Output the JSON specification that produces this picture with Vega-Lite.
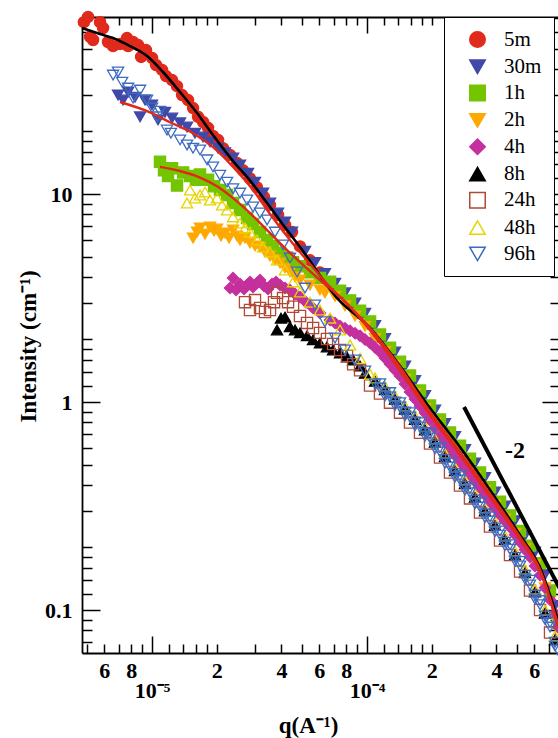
{
"$schema": "https://vega.github.io/schema/vega-lite/v6.json",
"autosize": {"type": "none"},
"padding": {"left": 82, "top": 17, "right": 0, "bottom": 85},
"width": 478,
"height": 636,
"config": {
  "view": {"stroke": null},
  "axis": {"domainColor": "black", "domainWidth": 1.8, "tickColor": "black", "tickWidth": 1.5, "labelFont": "Liberation Serif", "labelFontWeight": "bold", "labelFontSize": 22, "labelColor": "black", "titleFont": "Liberation Serif", "titleFontWeight": "bold", "titleFontSize": 23, "titleColor": "black", "grid": false, "labelOverlap": false, "labelFlush": false}
},
"datasets": {
  "pts": [
    {"s":"5m","q":4.82e-6,"I":67},{"s":"5m","q":5.04e-6,"I":71},{"s":"5m","q":5.15e-6,"I":57},{"s":"5m","q":5.32e-6,"I":55},{"s":"5m","q":5.73e-6,"I":67},{"s":"5m","q":5.92e-6,"I":62.8},{"s":"5m","q":6.24e-6,"I":53.8},{"s":"5m","q":6.59e-6,"I":51.4},{"s":"5m","q":7.10e-6,"I":52.6},{"s":"5m","q":7.65e-6,"I":56.2},{"s":"5m","q":7.74e-6,"I":51.4},{"s":"5m","q":8.16e-6,"I":53.8},{"s":"5m","q":8.62e-6,"I":52.0},{"s":"5m","q":8.90e-6,"I":45.6},{"s":"5m","q":9.38e-6,"I":49.2},{"s":"5m","q":1.0e-5,"I":45.1},{"s":"5m","q":1.044e-5,"I":41.7},{"s":"5m","q":1.113e-5,"I":39.5},{"s":"5m","q":1.162e-5,"I":36.9},{"s":"5m","q":1.239e-5,"I":35.3},{"s":"5m","q":1.307e-5,"I":33.0},{"s":"5m","q":1.380e-5,"I":29.9},{"s":"5m","q":1.471e-5,"I":28.3},{"s":"5m","q":1.552e-5,"I":25.9},{"s":"5m","q":1.637e-5,"I":23.5},{"s":"5m","q":1.727e-5,"I":22.2},{"s":"5m","q":1.822e-5,"I":20.8},{"s":"5m","q":1.922e-5,"I":19.0},{"s":"5m","q":2.028e-5,"I":18.2},{"s":"5m","q":2.139e-5,"I":16.6},{"s":"5m","q":2.306e-5,"I":15.4},{"s":"5m","q":2.486e-5,"I":14.1},{"s":"5m","q":2.651e-5,"I":13.0},{"s":"5m","q":2.856e-5,"I":11.9},{"s":"5m","q":3.079e-5,"I":10.76},{"s":"5m","q":3.319e-5,"I":9.67},{"s":"5m","q":3.538e-5,"I":8.85},{"s":"5m","q":3.856e-5,"I":7.93},{"s":"5m","q":4.155e-5,"I":7.10},{"s":"5m","q":4.479e-5,"I":6.56},
    {"s":"5m","q":4.879e-5,"I":5.6},{"s":"5m","q":5.43e-5,"I":4.8},{"s":"5m","q":6.04e-5,"I":4.2},{"s":"5m","q":6.73e-5,"I":3.68},{"s":"5m","q":7.49e-5,"I":3.34},{"s":"5m","q":8.34e-5,"I":2.99},{"s":"5m","q":9.28e-5,"I":2.67},{"s":"5m","q":1.033e-4,"I":2.37},{"s":"5m","q":1.149e-4,"I":2.05},{"s":"5m","q":1.279e-4,"I":1.774},{"s":"5m","q":1.424e-4,"I":1.519},{"s":"5m","q":1.585e-4,"I":1.302},{"s":"5m","q":1.764e-4,"I":1.103},{"s":"5m","q":1.963e-4,"I":0.933},{"s":"5m","q":2.185e-4,"I":0.800},{"s":"5m","q":2.432e-4,"I":0.693},{"s":"5m","q":2.707e-4,"I":0.600},{"s":"5m","q":3.013e-4,"I":0.519},{"s":"5m","q":3.354e-4,"I":0.445},{"s":"5m","q":3.733e-4,"I":0.377},{"s":"5m","q":4.155e-4,"I":0.322},{"s":"5m","q":4.625e-4,"I":0.276},{"s":"5m","q":5.15e-4,"I":0.234},{"s":"5m","q":5.73e-4,"I":0.198},{"s":"5m","q":6.38e-4,"I":0.163},{"s":"5m","q":7.10e-4,"I":0.120},{"s":"5m","q":7.73e-4,"I":0.089},

    {"s":"30m","q":6.95e-6,"I":29.9},{"s":"30m","q":7.33e-6,"I":28.3},{"s":"30m","q":7.74e-6,"I":30.9},{"s":"30m","q":8.34e-6,"I":29.2},{"s":"30m","q":8.80e-6,"I":23.5},{"s":"30m","q":9.28e-6,"I":28.3},{"s":"30m","q":1.0e-5,"I":26.8},{"s":"30m","q":1.067e-5,"I":22.7},{"s":"30m","q":1.149e-5,"I":24.7},{"s":"30m","q":1.239e-5,"I":23.2},{"s":"30m","q":1.350e-5,"I":22.0},{"s":"30m","q":1.455e-5,"I":21.0},{"s":"30m","q":1.585e-5,"I":19.6},{"s":"30m","q":1.727e-5,"I":18.8},{"s":"30m","q":1.861e-5,"I":17.8},{"s":"30m","q":2.028e-5,"I":16.6},{"s":"30m","q":2.185e-5,"I":15.8},{"s":"30m","q":2.382e-5,"I":14.9},{"s":"30m","q":2.566e-5,"I":13.8},{"s":"30m","q":2.796e-5,"I":12.6},{"s":"30m","q":3.013e-5,"I":11.4},{"s":"30m","q":3.284e-5,"I":10.1},{"s":"30m","q":3.538e-5,"I":9.05},{"s":"30m","q":3.856e-5,"I":8.10},{"s":"30m","q":4.155e-5,"I":7.34},{"s":"30m","q":4.479e-5,"I":6.56},
    {"s":"30m","q":5.147e-5,"I":5.31},{"s":"30m","q":5.73e-5,"I":4.69},{"s":"30m","q":6.37e-5,"I":4.15},{"s":"30m","q":7.10e-5,"I":3.72},{"s":"30m","q":7.90e-5,"I":3.35},{"s":"30m","q":8.80e-5,"I":2.99},{"s":"30m","q":9.79e-5,"I":2.67},{"s":"30m","q":1.090e-4,"I":2.33},{"s":"30m","q":1.212e-4,"I":2.02},{"s":"30m","q":1.349e-4,"I":1.738},{"s":"30m","q":1.502e-4,"I":1.488},{"s":"30m","q":1.672e-4,"I":1.268},{"s":"30m","q":1.861e-4,"I":1.075},{"s":"30m","q":2.071e-4,"I":0.915},{"s":"30m","q":2.305e-4,"I":0.788},{"s":"30m","q":2.566e-4,"I":0.683},{"s":"30m","q":2.856e-4,"I":0.591},{"s":"30m","q":3.179e-4,"I":0.509},{"s":"30m","q":3.538e-4,"I":0.434},{"s":"30m","q":3.938e-4,"I":0.369},{"s":"30m","q":4.383e-4,"I":0.316},{"s":"30m","q":4.879e-4,"I":0.269},{"s":"30m","q":5.43e-4,"I":0.228},{"s":"30m","q":6.04e-4,"I":0.190},{"s":"30m","q":6.73e-4,"I":0.148},{"s":"30m","q":7.49e-4,"I":0.105},

    {"s":"1h","q":1.089e-5,"I":14.3},{"s":"1h","q":1.137e-5,"I":13.0},{"s":"1h","q":1.187e-5,"I":12.2},{"s":"1h","q":1.239e-5,"I":13.3},{"s":"1h","q":1.307e-5,"I":11.0},{"s":"1h","q":1.395e-5,"I":12.7},{"s":"1h","q":1.502e-5,"I":12.2},{"s":"1h","q":1.602e-5,"I":11.7},{"s":"1h","q":1.672e-5,"I":12.4},{"s":"1h","q":1.822e-5,"I":11.7},{"s":"1h","q":1.943e-5,"I":10.9},{"s":"1h","q":2.071e-5,"I":10.45},{"s":"1h","q":2.233e-5,"I":9.89},{"s":"1h","q":2.382e-5,"I":9.05},{"s":"1h","q":2.566e-5,"I":8.38},{"s":"1h","q":2.767e-5,"I":7.67},{"s":"1h","q":2.950e-5,"I":7.18},{"s":"1h","q":3.179e-5,"I":6.56},{"s":"1h","q":3.428e-5,"I":6.01},{"s":"1h","q":3.655e-5,"I":5.63},{"s":"1h","q":3.938e-5,"I":5.20},{"s":"1h","q":4.246e-5,"I":4.95},{"s":"1h","q":4.528e-5,"I":4.7},{"s":"1h","q":4.879e-5,"I":4.5},{"s":"1h","q":5.43e-5,"I":4.2},{"s":"1h","q":6.04e-5,"I":3.95},
    {"s":"1h","q":6.73e-5,"I":3.79},{"s":"1h","q":7.49e-5,"I":3.43},{"s":"1h","q":8.34e-5,"I":3.08},{"s":"1h","q":9.28e-5,"I":2.75},{"s":"1h","q":1.033e-4,"I":2.44},{"s":"1h","q":1.149e-4,"I":2.11},{"s":"1h","q":1.279e-4,"I":1.826},{"s":"1h","q":1.424e-4,"I":1.563},{"s":"1h","q":1.585e-4,"I":1.340},{"s":"1h","q":1.764e-4,"I":1.135},{"s":"1h","q":1.963e-4,"I":0.961},{"s":"1h","q":2.185e-4,"I":0.823},{"s":"1h","q":2.432e-4,"I":0.713},{"s":"1h","q":2.707e-4,"I":0.617},{"s":"1h","q":3.013e-4,"I":0.534},{"s":"1h","q":3.354e-4,"I":0.458},{"s":"1h","q":3.733e-4,"I":0.389},{"s":"1h","q":4.155e-4,"I":0.332},{"s":"1h","q":4.625e-4,"I":0.285},{"s":"1h","q":5.15e-4,"I":0.240},{"s":"1h","q":5.73e-4,"I":0.204},{"s":"1h","q":6.38e-4,"I":0.168},{"s":"1h","q":7.10e-4,"I":0.124},{"s":"1h","q":7.73e-4,"I":0.092},

    {"s":"2h","q":1.552e-5,"I":6.14},{"s":"2h","q":1.620e-5,"I":6.56},{"s":"2h","q":1.672e-5,"I":6.87},{"s":"2h","q":1.764e-5,"I":6.42},{"s":"2h","q":1.861e-5,"I":6.94},{"s":"2h","q":1.943e-5,"I":6.64},{"s":"2h","q":2.006e-5,"I":6.79},{"s":"2h","q":2.094e-5,"I":6.28},{"s":"2h","q":2.185e-5,"I":6.49},{"s":"2h","q":2.281e-5,"I":6.14},{"s":"2h","q":2.382e-5,"I":6.71},{"s":"2h","q":2.486e-5,"I":6.28},{"s":"2h","q":2.566e-5,"I":6.01},{"s":"2h","q":2.707e-5,"I":6.14},{"s":"2h","q":2.856e-5,"I":5.81},{"s":"2h","q":3.013e-5,"I":5.63},{"s":"2h","q":3.179e-5,"I":5.56},{"s":"2h","q":3.354e-5,"I":5.26},{"s":"2h","q":3.538e-5,"I":5.03},{"s":"2h","q":3.733e-5,"I":4.82},{"s":"2h","q":3.938e-5,"I":4.66},{"s":"2h","q":4.155e-5,"I":4.41},{"s":"2h","q":4.383e-5,"I":4.22},{"s":"2h","q":4.625e-5,"I":3.99},{"s":"2h","q":4.879e-5,"I":3.86},{"s":"2h","q":5.43e-5,"I":3.65},{"s":"2h","q":6.04e-5,"I":3.46},{"s":"2h","q":6.37e-5,"I":3.35},
    {"s":"2h","q":7.10e-5,"I":3.22},{"s":"2h","q":7.90e-5,"I":2.90},{"s":"2h","q":8.80e-5,"I":2.59},{"s":"2h","q":9.79e-5,"I":2.31},{"s":"2h","q":1.090e-4,"I":2.02},{"s":"2h","q":1.212e-4,"I":1.748},{"s":"2h","q":1.349e-4,"I":1.504},{"s":"2h","q":1.502e-4,"I":1.288},{"s":"2h","q":1.672e-4,"I":1.098},{"s":"2h","q":1.861e-4,"I":0.930},{"s":"2h","q":2.071e-4,"I":0.792},{"s":"2h","q":2.305e-4,"I":0.683},{"s":"2h","q":2.566e-4,"I":0.591},{"s":"2h","q":2.856e-4,"I":0.511},{"s":"2h","q":3.179e-4,"I":0.440},{"s":"2h","q":3.538e-4,"I":0.376},{"s":"2h","q":3.938e-4,"I":0.320},{"s":"2h","q":4.383e-4,"I":0.274},{"s":"2h","q":4.879e-4,"I":0.233},{"s":"2h","q":5.43e-4,"I":0.197},{"s":"2h","q":6.04e-4,"I":0.165},{"s":"2h","q":6.73e-4,"I":0.128},{"s":"2h","q":7.49e-4,"I":0.091},

    {"s":"4h","q":2.306e-5,"I":3.53},{"s":"4h","q":2.382e-5,"I":3.95},{"s":"4h","q":2.459e-5,"I":3.46},{"s":"4h","q":2.566e-5,"I":3.69},{"s":"4h","q":2.679e-5,"I":3.49},{"s":"4h","q":2.767e-5,"I":3.65},{"s":"4h","q":2.856e-5,"I":3.78},{"s":"4h","q":2.950e-5,"I":3.57},{"s":"4h","q":3.079e-5,"I":3.73},{"s":"4h","q":3.179e-5,"I":3.86},{"s":"4h","q":3.319e-5,"I":3.61},{"s":"4h","q":3.465e-5,"I":3.49},{"s":"4h","q":3.616e-5,"I":3.69},{"s":"4h","q":3.774e-5,"I":3.78},{"s":"4h","q":3.938e-5,"I":3.65},{"s":"4h","q":4.155e-5,"I":3.53},{"s":"4h","q":4.383e-5,"I":3.46},{"s":"4h","q":4.625e-5,"I":3.31},{"s":"4h","q":4.879e-5,"I":3.20},{"s":"4h","q":5.2e-5,"I":3.02},{"s":"4h","q":5.61e-5,"I":2.83},{"s":"4h","q":6.04e-5,"I":2.68},{"s":"4h","q":6.73e-5,"I":2.48},{"s":"4h","q":7.10e-5,"I":2.40},{"s":"4h","q":7.49e-5,"I":2.32},{"s":"4h","q":7.90e-5,"I":2.26},{"s":"4h","q":8.34e-5,"I":2.20},{"s":"4h","q":8.80e-5,"I":2.14},{"s":"4h","q":9.28e-5,"I":2.08},{"s":"4h","q":9.79e-5,"I":2.00},{"s":"4h","q":1.033e-4,"I":1.92},{"s":"4h","q":1.090e-4,"I":1.827},{"s":"4h","q":1.149e-4,"I":1.739},{"s":"4h","q":1.212e-4,"I":1.627},{"s":"4h","q":1.279e-4,"I":1.523},{"s":"4h","q":1.349e-4,"I":1.425},{"s":"4h","q":1.424e-4,"I":1.333},{"s":"4h","q":1.502e-4,"I":1.220},{"s":"4h","q":1.585e-4,"I":1.117},{"s":"4h","q":1.672e-4,"I":1.033},{"s":"4h","q":1.764e-4,"I":0.956},{"s":"4h","q":1.861e-4,"I":0.885},{"s":"4h","q":1.963e-4,"I":0.819},{"s":"4h","q":2.071e-4,"I":0.750},{"s":"4h","q":2.185e-4,"I":0.686},{"s":"4h","q":2.305e-4,"I":0.639},{"s":"4h","q":2.432e-4,"I":0.595},{"s":"4h","q":2.566e-4,"I":0.553},{"s":"4h","q":2.707e-4,"I":0.514},{"s":"4h","q":2.856e-4,"I":0.479},{"s":"4h","q":3.013e-4,"I":0.446},{"s":"4h","q":3.179e-4,"I":0.415},{"s":"4h","q":3.354e-4,"I":0.386},{"s":"4h","q":3.538e-4,"I":0.357},{"s":"4h","q":3.733e-4,"I":0.331},{"s":"4h","q":3.938e-4,"I":0.308},{"s":"4h","q":4.155e-4,"I":0.286},{"s":"4h","q":4.383e-4,"I":0.267},{"s":"4h","q":4.625e-4,"I":0.250},{"s":"4h","q":4.879e-4,"I":0.230},{"s":"4h","q":5.15e-4,"I":0.212},{"s":"4h","q":5.43e-4,"I":0.195},{"s":"4h","q":5.73e-4,"I":0.180},{"s":"4h","q":6.04e-4,"I":0.163},{"s":"4h","q":6.38e-4,"I":0.147},{"s":"4h","q":6.73e-4,"I":0.128},{"s":"4h","q":7.10e-4,"I":0.112},{"s":"4h","q":7.49e-4,"I":0.096},{"s":"4h","q":7.73e-4,"I":0.0828},

    {"s":"8h","q":3.815e-5,"I":2.22},{"s":"8h","q":3.98e-5,"I":2.53},{"s":"8h","q":4.155e-5,"I":2.56},{"s":"8h","q":4.383e-5,"I":2.30},{"s":"8h","q":4.625e-5,"I":2.22},{"s":"8h","q":4.879e-5,"I":2.15},{"s":"8h","q":5.26e-5,"I":2.08},{"s":"8h","q":5.61e-5,"I":1.99},{"s":"8h","q":6.04e-5,"I":1.92},{"s":"8h","q":6.51e-5,"I":1.839},{"s":"8h","q":6.95e-5,"I":1.778},{"s":"8h","q":7.49e-5,"I":1.719},{"s":"8h","q":8.07e-5,"I":1.646},{"s":"8h","q":8.62e-5,"I":1.592},{"s":"8h","q":9.28e-5,"I":1.489},
    {"s":"8h","q":9.79e-5,"I":1.374},{"s":"8h","q":1.090e-4,"I":1.257},{"s":"8h","q":1.212e-4,"I":1.144},{"s":"8h","q":1.349e-4,"I":1.030},{"s":"8h","q":1.502e-4,"I":0.922},{"s":"8h","q":1.672e-4,"I":0.825},{"s":"8h","q":1.861e-4,"I":0.734},{"s":"8h","q":2.071e-4,"I":0.640},{"s":"8h","q":2.305e-4,"I":0.545},{"s":"8h","q":2.566e-4,"I":0.467},{"s":"8h","q":2.856e-4,"I":0.405},{"s":"8h","q":3.179e-4,"I":0.348},{"s":"8h","q":3.538e-4,"I":0.299},{"s":"8h","q":3.938e-4,"I":0.255},{"s":"8h","q":4.383e-4,"I":0.218},{"s":"8h","q":4.879e-4,"I":0.184},{"s":"8h","q":5.43e-4,"I":0.151},{"s":"8h","q":6.04e-4,"I":0.122},{"s":"8h","q":6.73e-4,"I":0.0965},{"s":"8h","q":7.49e-4,"I":0.072},

    {"s":"24h","q":2.707e-5,"I":3.02},{"s":"24h","q":2.856e-5,"I":2.77},{"s":"24h","q":3.013e-5,"I":3.09},{"s":"24h","q":3.179e-5,"I":2.83},{"s":"24h","q":3.354e-5,"I":2.71},{"s":"24h","q":3.538e-5,"I":2.77},{"s":"24h","q":3.694e-5,"I":3.02},{"s":"24h","q":3.815e-5,"I":3.35},{"s":"24h","q":4.068e-5,"I":3.16},{"s":"24h","q":4.292e-5,"I":3.02},{"s":"24h","q":4.528e-5,"I":2.87},{"s":"24h","q":4.879e-5,"I":2.59},{"s":"24h","q":5.26e-5,"I":2.40},{"s":"24h","q":5.61e-5,"I":2.27},{"s":"24h","q":6.04e-5,"I":2.15},{"s":"24h","q":6.51e-5,"I":2.01},{"s":"24h","q":6.95e-5,"I":1.90},{"s":"24h","q":7.49e-5,"I":1.778},{"s":"24h","q":8.07e-5,"I":1.665},{"s":"24h","q":8.62e-5,"I":1.52},{"s":"24h","q":9.28e-5,"I":1.42},
    {"s":"24h","q":1.033e-4,"I":1.200},{"s":"24h","q":1.149e-4,"I":1.098},{"s":"24h","q":1.279e-4,"I":0.993},{"s":"24h","q":1.424e-4,"I":0.889},{"s":"24h","q":1.585e-4,"I":0.796},{"s":"24h","q":1.764e-4,"I":0.712},{"s":"24h","q":1.963e-4,"I":0.631},{"s":"24h","q":2.185e-4,"I":0.541},{"s":"24h","q":2.432e-4,"I":0.458},{"s":"24h","q":2.707e-4,"I":0.397},{"s":"24h","q":3.013e-4,"I":0.344},{"s":"24h","q":3.354e-4,"I":0.294},{"s":"24h","q":3.733e-4,"I":0.252},{"s":"24h","q":4.155e-4,"I":0.216},{"s":"24h","q":4.625e-4,"I":0.184},{"s":"24h","q":5.15e-4,"I":0.153},{"s":"24h","q":5.73e-4,"I":0.124},{"s":"24h","q":6.38e-4,"I":0.100},{"s":"24h","q":7.10e-4,"I":0.0779},

    {"s":"48h","q":1.455e-5,"I":9.05},{"s":"48h","q":1.502e-5,"I":10.45},{"s":"48h","q":1.585e-5,"I":9.56},{"s":"48h","q":1.672e-5,"I":9.89},{"s":"48h","q":1.764e-5,"I":10.22},{"s":"48h","q":1.861e-5,"I":9.36},{"s":"48h","q":2.006e-5,"I":9.56},{"s":"48h","q":2.117e-5,"I":8.85},{"s":"48h","q":2.233e-5,"I":8.38},{"s":"48h","q":2.382e-5,"I":7.76},{"s":"48h","q":2.566e-5,"I":7.25},{"s":"48h","q":2.707e-5,"I":6.87},{"s":"48h","q":2.856e-5,"I":6.56},{"s":"48h","q":3.079e-5,"I":6.01},{"s":"48h","q":3.284e-5,"I":5.56},{"s":"48h","q":3.538e-5,"I":5.26},{"s":"48h","q":3.815e-5,"I":4.82},{"s":"48h","q":4.155e-5,"I":4.31},{"s":"48h","q":4.528e-5,"I":3.78},{"s":"48h","q":4.879e-5,"I":3.38},{"s":"48h","q":5.43e-5,"I":3.02},{"s":"48h","q":6.04e-5,"I":2.77},{"s":"48h","q":6.73e-5,"I":2.53},{"s":"48h","q":7.49e-5,"I":2.22},{"s":"48h","q":8.34e-5,"I":1.88},{"s":"48h","q":9.28e-5,"I":1.62},{"s":"48h","q":1.033e-4,"I":1.36},
    {"s":"48h","q":1.090e-4,"I":1.305},{"s":"48h","q":1.212e-4,"I":1.189},{"s":"48h","q":1.349e-4,"I":1.070},{"s":"48h","q":1.502e-4,"I":0.958},{"s":"48h","q":1.672e-4,"I":0.857},{"s":"48h","q":1.861e-4,"I":0.763},{"s":"48h","q":2.071e-4,"I":0.664},{"s":"48h","q":2.305e-4,"I":0.566},{"s":"48h","q":2.566e-4,"I":0.485},{"s":"48h","q":2.856e-4,"I":0.421},{"s":"48h","q":3.179e-4,"I":0.362},{"s":"48h","q":3.538e-4,"I":0.310},{"s":"48h","q":3.938e-4,"I":0.265},{"s":"48h","q":4.383e-4,"I":0.227},{"s":"48h","q":4.879e-4,"I":0.192},{"s":"48h","q":5.43e-4,"I":0.157},{"s":"48h","q":6.04e-4,"I":0.126},{"s":"48h","q":6.73e-4,"I":0.100},{"s":"48h","q":7.49e-4,"I":0.075},

    {"s":"96h","q":6.59e-6,"I":37.3},{"s":"96h","q":6.95e-6,"I":38.6},{"s":"96h","q":7.26e-6,"I":34.5},{"s":"96h","q":7.74e-6,"I":32.3},{"s":"96h","q":8.16e-6,"I":28.9},{"s":"96h","q":8.80e-6,"I":31.6},{"s":"96h","q":9.48e-6,"I":28.3},{"s":"96h","q":1.0e-5,"I":25.9},{"s":"96h","q":1.056e-5,"I":23.5},{"s":"96h","q":1.089e-5,"I":25.0},{"s":"96h","q":1.174e-5,"I":20.3},{"s":"96h","q":1.225e-5,"I":19.6},{"s":"96h","q":1.350e-5,"I":18.2},{"s":"96h","q":1.455e-5,"I":17.2},{"s":"96h","q":1.552e-5,"I":16.6},{"s":"96h","q":1.672e-5,"I":16.3},{"s":"96h","q":1.803e-5,"I":14.6},{"s":"96h","q":1.922e-5,"I":13.5},{"s":"96h","q":2.071e-5,"I":12.3},{"s":"96h","q":2.233e-5,"I":11.4},{"s":"96h","q":2.382e-5,"I":10.6},{"s":"96h","q":2.566e-5,"I":10.1},{"s":"96h","q":2.767e-5,"I":9.36},{"s":"96h","q":2.950e-5,"I":8.66},{"s":"96h","q":3.179e-5,"I":8.10},{"s":"96h","q":3.428e-5,"I":7.50},{"s":"96h","q":3.733e-5,"I":6.56},{"s":"96h","q":4.068e-5,"I":5.69},{"s":"96h","q":4.383e-5,"I":4.92},{"s":"96h","q":4.727e-5,"I":4.22},{"s":"96h","q":5.147e-5,"I":3.53},{"s":"96h","q":5.73e-5,"I":2.93},{"s":"96h","q":6.37e-5,"I":2.43},{"s":"96h","q":7.10e-5,"I":2.03},{"s":"96h","q":7.90e-5,"I":1.778},{"s":"96h","q":8.80e-5,"I":1.592},{"s":"96h","q":9.79e-5,"I":1.409},
    {"s":"96h","q":1.090e-4,"I":1.220},{"s":"96h","q":1.149e-4,"I":1.167},{"s":"96h","q":1.212e-4,"I":1.111},{"s":"96h","q":1.279e-4,"I":1.057},{"s":"96h","q":1.349e-4,"I":1.000},{"s":"96h","q":1.424e-4,"I":0.946},{"s":"96h","q":1.502e-4,"I":0.895},{"s":"96h","q":1.585e-4,"I":0.847},{"s":"96h","q":1.672e-4,"I":0.801},{"s":"96h","q":1.764e-4,"I":0.758},{"s":"96h","q":1.861e-4,"I":0.713},{"s":"96h","q":1.963e-4,"I":0.671},{"s":"96h","q":2.071e-4,"I":0.621},{"s":"96h","q":2.185e-4,"I":0.575},{"s":"96h","q":2.305e-4,"I":0.529},{"s":"96h","q":2.432e-4,"I":0.487},{"s":"96h","q":2.566e-4,"I":0.453},{"s":"96h","q":2.707e-4,"I":0.422},{"s":"96h","q":2.856e-4,"I":0.393},{"s":"96h","q":3.013e-4,"I":0.366},{"s":"96h","q":3.179e-4,"I":0.338},{"s":"96h","q":3.354e-4,"I":0.313},{"s":"96h","q":3.538e-4,"I":0.290},{"s":"96h","q":3.733e-4,"I":0.268},{"s":"96h","q":3.938e-4,"I":0.248},{"s":"96h","q":4.155e-4,"I":0.229},{"s":"96h","q":4.383e-4,"I":0.212},{"s":"96h","q":4.625e-4,"I":0.196},{"s":"96h","q":4.879e-4,"I":0.179},{"s":"96h","q":5.15e-4,"I":0.163},{"s":"96h","q":5.43e-4,"I":0.147},{"s":"96h","q":5.73e-4,"I":0.132},{"s":"96h","q":6.04e-4,"I":0.118},{"s":"96h","q":6.38e-4,"I":0.106},{"s":"96h","q":6.73e-4,"I":0.0937},{"s":"96h","q":7.10e-4,"I":0.0828},{"s":"96h","q":7.49e-4,"I":0.070},{"s":"96h","q":7.73e-4,"I":0.0642},
    {"s":"96h","q":1.149e-4,"I":1.225},{"s":"96h","q":1.279e-4,"I":1.110},{"s":"96h","q":1.424e-4,"I":0.993},{"s":"96h","q":1.585e-4,"I":0.889},{"s":"96h","q":1.764e-4,"I":0.796},{"s":"96h","q":1.963e-4,"I":0.705},{"s":"96h","q":2.185e-4,"I":0.604},{"s":"96h","q":2.432e-4,"I":0.511},{"s":"96h","q":2.707e-4,"I":0.443},{"s":"96h","q":3.013e-4,"I":0.384},{"s":"96h","q":3.354e-4,"I":0.329},{"s":"96h","q":3.733e-4,"I":0.281},{"s":"96h","q":4.155e-4,"I":0.240},{"s":"96h","q":4.625e-4,"I":0.206},{"s":"96h","q":5.15e-4,"I":0.171},{"s":"96h","q":5.73e-4,"I":0.139},{"s":"96h","q":6.38e-4,"I":0.111},{"s":"96h","q":7.10e-4,"I":0.087},
    {"s":"96h","q":1.212e-4,"I":1.067},{"s":"96h","q":1.349e-4,"I":0.960},{"s":"96h","q":1.502e-4,"I":0.859},{"s":"96h","q":1.672e-4,"I":0.769},{"s":"96h","q":1.861e-4,"I":0.684},{"s":"96h","q":2.071e-4,"I":0.596},{"s":"96h","q":2.305e-4,"I":0.508},{"s":"96h","q":2.566e-4,"I":0.435},{"s":"96h","q":2.856e-4,"I":0.377},{"s":"96h","q":3.179e-4,"I":0.324},{"s":"96h","q":3.538e-4,"I":0.278},{"s":"96h","q":3.938e-4,"I":0.238},{"s":"96h","q":4.383e-4,"I":0.204},{"s":"96h","q":4.879e-4,"I":0.172},{"s":"96h","q":5.43e-4,"I":0.141},{"s":"96h","q":6.04e-4,"I":0.113},{"s":"96h","q":6.73e-4,"I":0.090},{"s":"96h","q":7.49e-4,"I":0.067}
  ],
  "fits": [
    {"fit":"k","q":4.724e-6,"I":62.8},{"fit":"k","q":5.73e-6,"I":58.8},{"fit":"k","q":6.59e-6,"I":56.2},{"fit":"k","q":7.90e-6,"I":51.4},{"fit":"k","q":9.48e-6,"I":46.1},{"fit":"k","q":1.125e-5,"I":38.6},{"fit":"k","q":1.350e-5,"I":30.9},{"fit":"k","q":1.620e-5,"I":24.5},{"fit":"k","q":1.861e-5,"I":20.1},{"fit":"k","q":2.382e-5,"I":14.4},{"fit":"k","q":2.856e-5,"I":11.6},{"fit":"k","q":3.428e-5,"I":9.05},{"fit":"k","q":4.246e-5,"I":6.71},{"fit":"k","q":4.879e-5,"I":5.56},{"fit":"k","q":7.26e-5,"I":3.16},{"fit":"k","q":1.033e-4,"I":2.27},{"fit":"k","q":1.424e-4,"I":1.489},{"fit":"k","q":1.963e-4,"I":0.935},{"fit":"k","q":2.707e-4,"I":0.607},{"fit":"k","q":3.733e-4,"I":0.378},{"fit":"k","q":5.15e-4,"I":0.229},{"fit":"k","q":6.38e-4,"I":0.160},{"fit":"k","q":7.73e-4,"I":0.0895},
    {"fit":"a","q":7.10e-6,"I":27.7},{"fit":"a","q":9.79e-6,"I":24.7},{"fit":"a","q":1.225e-5,"I":22.0},{"fit":"a","q":1.552e-5,"I":19.6},{"fit":"a","q":1.922e-5,"I":16.8},{"fit":"a","q":2.382e-5,"I":13.5},{"fit":"a","q":2.950e-5,"I":10.45},{"fit":"a","q":3.538e-5,"I":8.02},{"fit":"a","q":4.383e-5,"I":6.01},{"fit":"a","q":5.43e-5,"I":4.61},{"fit":"a","q":6.73e-5,"I":3.57},{"fit":"a","q":8.34e-5,"I":2.87},{"fit":"a","q":1.033e-4,"I":2.27},{"fit":"a","q":1.424e-4,"I":1.473},{"fit":"a","q":1.963e-4,"I":0.895},{"fit":"a","q":2.707e-4,"I":0.575},{"fit":"a","q":3.733e-4,"I":0.362},{"fit":"a","q":5.15e-4,"I":0.224},{"fit":"a","q":6.38e-4,"I":0.156},{"fit":"a","q":7.73e-4,"I":0.0857},
    {"fit":"b","q":1.089e-5,"I":13.5},{"fit":"b","q":1.350e-5,"I":12.9},{"fit":"b","q":1.672e-5,"I":12.0},{"fit":"b","q":2.006e-5,"I":10.9},{"fit":"b","q":2.382e-5,"I":9.56},{"fit":"b","q":2.856e-5,"I":8.10},{"fit":"b","q":3.428e-5,"I":6.71},{"fit":"b","q":4.246e-5,"I":5.38},{"fit":"b","q":4.879e-5,"I":4.71},{"fit":"b","q":6.04e-5,"I":3.86},{"fit":"b","q":7.49e-5,"I":3.20},{"fit":"b","q":9.28e-5,"I":2.53},{"fit":"b","q":1.149e-4,"I":1.92},{"fit":"b","q":1.424e-4,"I":1.409},{"fit":"b","q":1.963e-4,"I":0.866},{"fit":"b","q":2.707e-4,"I":0.556},{"fit":"b","q":3.733e-4,"I":0.349},{"fit":"b","q":5.15e-4,"I":0.217},{"fit":"b","q":6.38e-4,"I":0.153},{"fit":"b","q":7.73e-4,"I":0.0828}
  ],
  "slope": [{"q":2.827e-4,"I":0.946},{"q":9.79e-4,"I":0.0829}],
  "lbl": [{"q":4.88e-4,"I":0.581,"t":"-2"}]
},
"layer": [
  {
    "data": {"name": "pts"},
    "mark": {"type": "point", "size": 125, "strokeWidth": 1.3, "opacity": 1},
    "encoding": {
      "x": {"field": "q", "type": "quantitative", "scale": {"type": "log", "domain": [4.724e-6, 7.9e-4], "nice": false},
        "axis": {"orient": "bottom",
          "values": [5e-6,6e-6,7e-6,8e-6,9e-6,1e-5,1.2e-5,1.4e-5,1.6e-5,1.8e-5,2e-5,3e-5,4e-5,5e-5,6e-5,7e-5,8e-5,9e-5,1e-4,1.2e-4,1.4e-4,1.6e-4,1.8e-4,2e-4,3e-4,4e-4,5e-4,6e-4,7e-4],
          "labelExpr": "(abs(datum.value/pow(10, floor(log(datum.value)/LN10 + 0.000001)) - round(datum.value/pow(10, floor(log(datum.value)/LN10 + 0.000001)))) < 0.01 && round(datum.value/pow(10, floor(log(datum.value)/LN10 + 0.000001))) % 2 == 0) ? '' + round(datum.value/pow(10, floor(log(datum.value)/LN10 + 0.000001))) : ''",
          "tickSize": {"condition": {"test": "abs(log(datum.value)/LN10 - round(log(datum.value)/LN10)) < 0.001", "value": -17}, "value": -9},
          "labelPadding": 16,
          "title": "q(A⁻¹)", "titleX": 226, "titleY": 72, "titleBaseline": "middle", "titleAlign": "center", "titleAngle": 0}},
      "y": {"field": "I", "type": "quantitative", "scale": {"type": "log", "domain": [0.06214, 70.96], "nice": false},
        "axis": {"orient": "left",
          "values": [0.07,0.08,0.09,0.1,0.12,0.14,0.16,0.18,0.2,0.3,0.4,0.5,0.6,0.7,0.8,0.9,1,1.2,1.4,1.6,1.8,2,3,4,5,6,7,8,9,10,12,14,16,18,20,30,40,50,60,70],
          "labelExpr": "abs(log(datum.value)/LN10 - round(log(datum.value)/LN10)) < 0.001 ? (datum.value > 5 ? '10' : (datum.value > 0.5 ? '1' : '0.1')) : ''",
          "tickSize": {"condition": {"test": "abs(log(datum.value)/LN10 - round(log(datum.value)/LN10)) < 0.001", "value": -18}, "value": -10},
          "labelPadding": 28,
          "title": "Intensity (cm⁻¹)", "titleX": -54, "titleY": 329, "titleBaseline": "middle", "titleAlign": "center", "titleAngle": -90}},
      "shape": {"field": "s", "type": "nominal",
        "scale": {"domain": ["5m","30m","1h","2h","4h","8h","24h","48h","96h"], "range": ["circle","triangle-down","square","triangle-down","diamond","triangle-up","square","triangle-up","triangle-down"]},
        "legend": {"orient": "none", "legendX": 362, "legendY": 0, "title": null, "strokeColor": "black", "fillColor": "white", "padding": 12, "rowPadding": 4.3, "symbolSize": 240, "symbolStrokeWidth": 1.5, "symbolOffset": 11, "labelOffset": 16, "labelFont": "Liberation Serif", "labelFontSize": 21, "labelColor": "black", "symbolOpacity": 1}},
      "fill": {"field": "s", "type": "nominal",
        "scale": {"domain": ["5m","30m","1h","2h","4h","8h","24h","48h","96h"], "range": ["#e02a1b","#4049a8","#74c400","#ffa800","#c4309c","#000000","transparent","transparent","transparent"]}},
      "stroke": {"field": "s", "type": "nominal",
        "scale": {"domain": ["5m","30m","1h","2h","4h","8h","24h","48h","96h"], "range": ["#e02a1b","#4049a8","#74c400","#ffa800","#c4309c","#000000","#b04a36","#e6d400","#3c6cc0"]}}
    }
  },
  {
    "data": {"name": "fits"},
    "transform": [{"filter": "datum.fit == 'k'"}],
    "mark": {"type": "line", "color": "black", "strokeWidth": 2.6, "interpolate": "monotone"},
    "encoding": {
      "x": {"field": "q", "type": "quantitative", "scale": {"type": "log", "domain": [4.724e-6, 7.9e-4], "nice": false}, "axis": null},
      "y": {"field": "I", "type": "quantitative", "scale": {"type": "log", "domain": [0.06214, 70.96], "nice": false}, "axis": null}
    }
  },
  {
    "data": {"name": "fits"},
    "transform": [{"filter": "datum.fit == 'a'"}],
    "mark": {"type": "line", "color": "#e0281c", "strokeWidth": 2.4, "interpolate": "monotone"},
    "encoding": {
      "x": {"field": "q", "type": "quantitative", "scale": {"type": "log", "domain": [4.724e-6, 7.9e-4], "nice": false}, "axis": null},
      "y": {"field": "I", "type": "quantitative", "scale": {"type": "log", "domain": [0.06214, 70.96], "nice": false}, "axis": null}
    }
  },
  {
    "data": {"name": "fits"},
    "transform": [{"filter": "datum.fit == 'b'"}],
    "mark": {"type": "line", "color": "#e0281c", "strokeWidth": 2.4, "interpolate": "monotone"},
    "encoding": {
      "x": {"field": "q", "type": "quantitative", "scale": {"type": "log", "domain": [4.724e-6, 7.9e-4], "nice": false}, "axis": null},
      "y": {"field": "I", "type": "quantitative", "scale": {"type": "log", "domain": [0.06214, 70.96], "nice": false}, "axis": null}
    }
  },
  {
    "data": {"name": "lbl"},
    "mark": {"type": "text", "font": "Liberation Serif", "fontWeight": "bold", "fontSize": 24, "align": "center", "baseline": "middle", "color": "black"},
    "encoding": {
      "x": {"field": "q", "type": "quantitative", "scale": {"type": "log", "domain": [4.724e-6, 7.9e-4], "nice": false},
        "axis": {"orient": "bottom", "values": [1e-5, 1e-4], "ticks": false, "domain": false, "title": null,
          "labelExpr": "datum.value < 5e-5 ? '10⁻⁵' : '10⁻⁴'", "labelPadding": 27}},
      "y": {"field": "I", "type": "quantitative", "scale": {"type": "log", "domain": [0.06214, 70.96], "nice": false}, "axis": null},
      "text": {"field": "t"}
    }
  },
  {
    "data": {"name": "slope"},
    "mark": {"type": "line", "color": "black", "strokeWidth": 4, "clip": true},
    "encoding": {
      "x": {"field": "q", "type": "quantitative", "scale": {"type": "log", "domain": [4.724e-6, 7.9e-4], "nice": false},
        "axis": {"orient": "top", "labels": false, "title": null,
          "values": [5e-6,6e-6,7e-6,8e-6,9e-6,1e-5,1.2e-5,1.4e-5,1.6e-5,1.8e-5,2e-5,3e-5,4e-5,5e-5,6e-5,7e-5,8e-5,9e-5,1e-4,1.2e-4,1.4e-4,1.6e-4,1.8e-4,2e-4,3e-4,4e-4,5e-4,6e-4,7e-4],
          "tickSize": {"condition": {"test": "abs(log(datum.value)/LN10 - round(log(datum.value)/LN10)) < 0.001", "value": -16}, "value": -8}}},
      "y": {"field": "I", "type": "quantitative", "scale": {"type": "log", "domain": [0.06214, 70.96], "nice": false},
        "axis": {"orient": "right", "labels": false, "title": null,
          "values": [0.07,0.08,0.09,0.1,0.12,0.14,0.16,0.18,0.2,0.3,0.4,0.5,0.6,0.7,0.8,0.9,1,1.2,1.4,1.6,1.8,2,3,4,5,6,7,8,9,10,12,14,16,18,20,30,40,50,60,70],
          "tickSize": {"condition": {"test": "abs(log(datum.value)/LN10 - round(log(datum.value)/LN10)) < 0.001", "value": -18}, "value": -10}}}
    }
  }
],
"resolve": {"axis": {"x": "independent", "y": "independent"}}
}
